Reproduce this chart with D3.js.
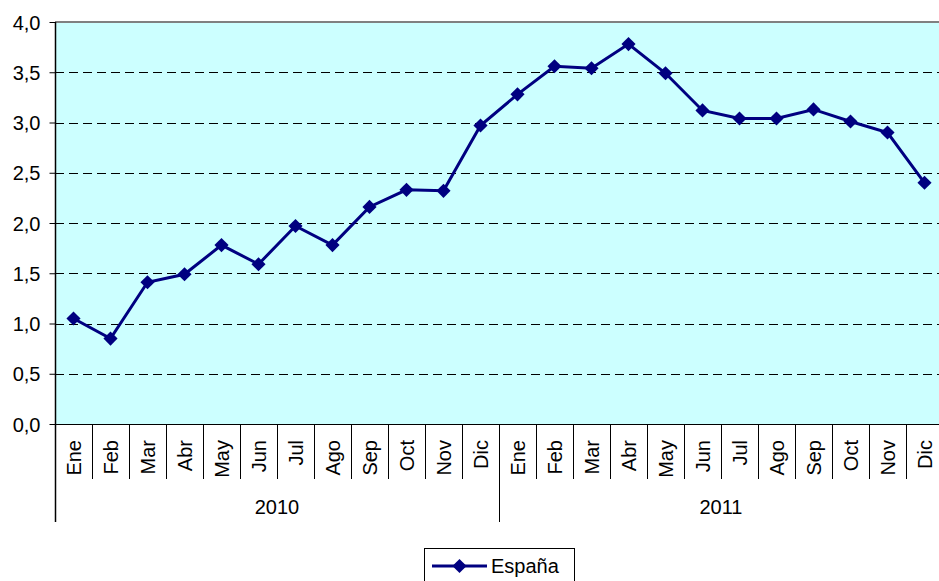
<!DOCTYPE html>
<html>
<head>
<meta charset="utf-8">
<script src="https://cdn.jsdelivr.net/npm/d3@7"></script>
<style>
  body { margin: 0; background: #fff; }
  svg text { font-family: "Liberation Sans", Arial, sans-serif; fill: #000; }
</style>
</head>
<body>
<svg id="chart" width="939" height="581"></svg>
<script>
"use strict";

// data
var years = ["2010", "2011"];
var months = ["Ene", "Feb", "Mar", "Abr", "May", "Jun", "Jul", "Ago", "Sep", "Oct", "Nov", "Dic"];
var espana = [1.05, 0.85, 1.41, 1.49, 1.78, 1.59, 1.97, 1.78, 2.16, 2.33, 2.32, 2.97,
              3.28, 3.56, 3.54, 3.78, 3.49, 3.12, 3.04, 3.04, 3.13, 3.01, 2.90, 2.40];
var yTicks = [0, 0.5, 1, 1.5, 2, 2.5, 3, 3.5, 4];
var seriesName = "España";

var svg = d3.select("#chart"),
    plotLeft = 55,
    plotTop = 22,
    plotBottom = 424,
    bandW = 37,
    navy = "#000080";

var categories = [];
years.forEach(function(yr){
  months.forEach(function(m){ categories.push(yr + "-" + m); });
});

var x = d3.scaleBand()
  .domain(categories)
  .range([plotLeft, plotLeft + bandW * categories.length]);

var y = d3.scaleLinear()
  .domain([0, 4])
  .range([plotBottom, plotTop]);

var fmt = function(v){ return d3.format(".1f")(v).replace(".", ","); };

// plot background
svg.append("rect")
  .attr("x", x.range()[0])
  .attr("y", plotTop)
  .attr("width", x.range()[1] - x.range()[0])
  .attr("height", plotBottom - plotTop)
  .attr("fill", "#ccffff");

// grid lines
svg.append("g")
  .selectAll("line")
  .data(yTicks.filter(function(d){ return d > 0 && d < 4; }))
  .enter()
  .append("line")
  .attr("x1", plotLeft)
  .attr("x2", x.range()[1])
  .attr("y1", function(d){ return Math.round(y(d)) + 0.5; })
  .attr("y2", function(d){ return Math.round(y(d)) + 0.5; })
  .attr("stroke", "#000")
  .attr("stroke-dasharray", "9,5");

// top border
svg.append("line")
  .attr("x1", plotLeft)
  .attr("x2", x.range()[1])
  .attr("y1", plotTop)
  .attr("y2", plotTop)
  .attr("stroke", "#808080")
  .attr("stroke-width", 2);

// y axis
var yAxis = d3.axisLeft(y)
  .tickValues(yTicks)
  .tickFormat(fmt)
  .tickSize(6)
  .tickPadding(9);

var yAxis_g = svg.append("g")
  .attr("transform", "translate(" + (plotLeft + 0.5) + ",0)")
  .call(yAxis);

yAxis_g.select(".domain").remove();
yAxis_g.selectAll("line").attr("stroke", "#000");
yAxis_g.selectAll("text")
  .attr("font-size", "20px")
  .attr("font-family", "Liberation Sans, Arial, sans-serif")
  .attr("dy", "0.36em");

// left axis line down through category area
svg.append("line")
  .attr("x1", plotLeft + 0.5)
  .attr("x2", plotLeft + 0.5)
  .attr("y1", plotTop)
  .attr("y2", 522)
  .attr("stroke", "#000")
  .attr("stroke-width", 1.5);

// x axis baseline
svg.append("line")
  .attr("x1", plotLeft)
  .attr("x2", x.range()[1])
  .attr("y1", plotBottom + 0.5)
  .attr("y2", plotBottom + 0.5)
  .attr("stroke", "#000");

// category separators
svg.append("g")
  .selectAll("line")
  .data(categories.slice(1))
  .enter()
  .append("line")
  .attr("x1", function(d){ return Math.round(x(d)) + 0.5; })
  .attr("x2", function(d){ return Math.round(x(d)) + 0.5; })
  .attr("y1", plotBottom)
  .attr("y2", function(d){ return d.split("-")[1] === months[0] ? 522 : 479; })
  .attr("stroke", "#000");

// month labels
svg.append("g")
  .selectAll("text")
  .data(categories)
  .enter()
  .append("text")
  .attr("transform", function(d){
    return "translate(" + (x(d) + x.bandwidth() / 2 + 7) + ",440) rotate(-90)";
  })
  .attr("text-anchor", "end")
  .attr("font-size", "20px")
  .text(function(d){ return d.split("-")[1]; });

// year labels
svg.append("g")
  .selectAll("text")
  .data(years)
  .enter()
  .append("text")
  .attr("x", function(d){
    return (x(d + "-" + months[0]) + x(d + "-" + months[11]) + x.bandwidth()) / 2;
  })
  .attr("y", 514)
  .attr("text-anchor", "middle")
  .attr("font-size", "20px")
  .text(function(d){ return d; });

// series line
var points = espana.map(function(v, i){
  return { x: x(categories[i]) + x.bandwidth() / 2, y: y(v) };
});

svg.append("path")
  .datum(points)
  .attr("d", d3.line().x(function(d){ return d.x; }).y(function(d){ return d.y; }))
  .attr("fill", "none")
  .attr("stroke", navy)
  .attr("stroke-width", 3);

var diamond = d3.symbol().type(d3.symbolSquare).size(100);

svg.append("g")
  .selectAll("path")
  .data(points)
  .enter()
  .append("path")
  .attr("d", diamond)
  .attr("transform", function(d){ return "translate(" + d.x + "," + d.y + ") rotate(45)"; })
  .attr("fill", navy);

// legend
var legend_g = svg.append("g").attr("transform", "translate(424,548)");

legend_g.append("rect")
  .attr("x", 0.5)
  .attr("y", 0.5)
  .attr("width", 150)
  .attr("height", 40)
  .attr("fill", "#fff")
  .attr("stroke", "#000");

legend_g.append("line")
  .attr("x1", 8)
  .attr("x2", 63)
  .attr("y1", 18)
  .attr("y2", 18)
  .attr("stroke", navy)
  .attr("stroke-width", 3);

legend_g.append("path")
  .attr("d", diamond)
  .attr("transform", "translate(35.5,18) rotate(45)")
  .attr("fill", navy);

legend_g.append("text")
  .attr("x", 67)
  .attr("y", 25)
  .attr("font-size", "20px")
  .text(seriesName);
</script>
</body>
</html>
